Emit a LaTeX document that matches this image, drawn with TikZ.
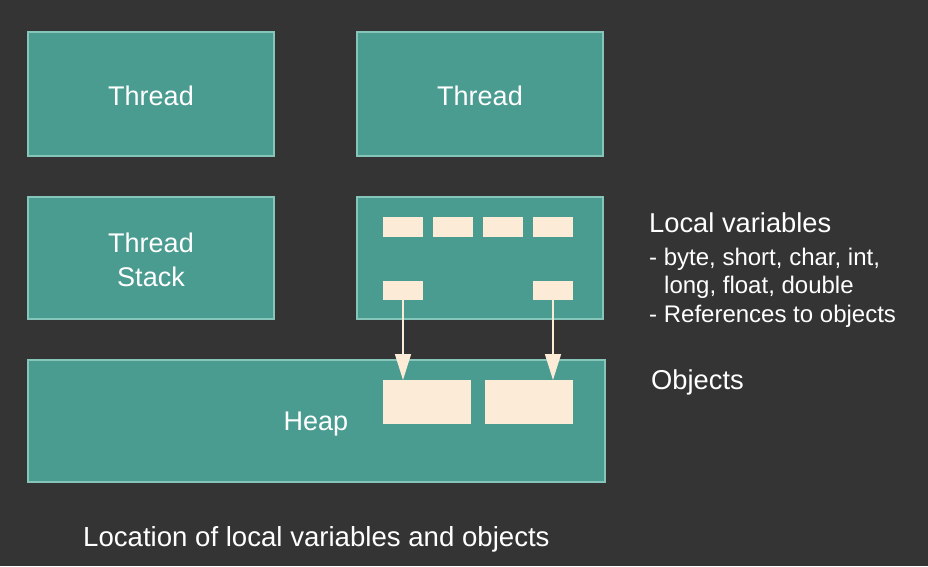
\documentclass[tikz,border=0pt]{standalone}
\usepackage{fontspec}
\setmainfont{Liberation Sans}
\usetikzlibrary{arrows.meta}
\definecolor{bgdark}{HTML}{343434}
\definecolor{tealfill}{HTML}{4A9C91}
\definecolor{tealedge}{HTML}{86C6BA}
\definecolor{cream}{HTML}{FCEBD7}
\begin{document}
\begin{tikzpicture}[x=1pt,y=-1pt,
  block/.style={fill=tealfill,draw=tealedge,line width=1.2pt},
  slot/.style={fill=cream,draw=none},
  blocktext/.style={text=white,font=\fontsize{27}{33}\selectfont,align=center},
  sidetext/.style={text=white,anchor=west,inner sep=0pt},
  ref/.style={draw=cream,line width=1.5pt,-{Triangle[length=26pt,width=16pt,fill=cream]}}]
\fill[bgdark] (0,0) rectangle (928,566);
\useasboundingbox (0,0) rectangle (928,566);

% thread boxes
\draw[block] (28,32) rectangle (274,156);
\node[blocktext] (t1) at (151,96) {Thread};
\draw[block] (357,32) rectangle (603,156);
\node[blocktext] (t2) at (480,96) {Thread};

% thread stacks
\draw[block] (28,197) rectangle (274,319);
\node[blocktext] (ts) at (151,260) {Thread\\[1pt]Stack};
\draw[block] (357,197) rectangle (603,319);

% heap
\draw[block] (28,360) rectangle (605,482);
\node[blocktext] (heap) at (316,424) {Heap};

% local variable slots
\path[slot] (383,217) rectangle (423,237);
\path[slot] (433,217) rectangle (473,237);
\path[slot] (483,217) rectangle (523,237);
\path[slot] (533,217) rectangle (573,237);
\coordinate (r1) at (403,300);
\coordinate (r2) at (553,300);
\path[slot] (383,281) rectangle (423,300);
\path[slot] (533,281) rectangle (573,300);

% objects on the heap
\path[slot] (383,380) rectangle (471,424);
\path[slot] (485,380) rectangle (573,424);
\coordinate (o1) at (403,380);
\coordinate (o2) at (553,380);

% references
\draw[ref] (r1) -- (o1);
\draw[ref] (r2) -- (o2);

% side notes
\node[sidetext,font=\fontsize{27.3}{33}\selectfont] (lv) at (649,223) {Local variables};
\node[sidetext,font=\fontsize{24}{28}\selectfont] (l1) at (649,259) {- byte, short, char, int,};
\node[sidetext,font=\fontsize{24}{28}\selectfont] (l2) at (664,287) {long, float, double};
\node[sidetext,font=\fontsize{24}{28}\selectfont] (l3) at (649,316) {- References to objects};
\node[sidetext,font=\fontsize{27.3}{33}\selectfont] (ob) at (651,382) {Objects};

% caption
\node[sidetext,font=\fontsize{27.6}{33}\selectfont] (cap) at (83,539) {Location of local variables and objects};
\end{tikzpicture}
\end{document}
